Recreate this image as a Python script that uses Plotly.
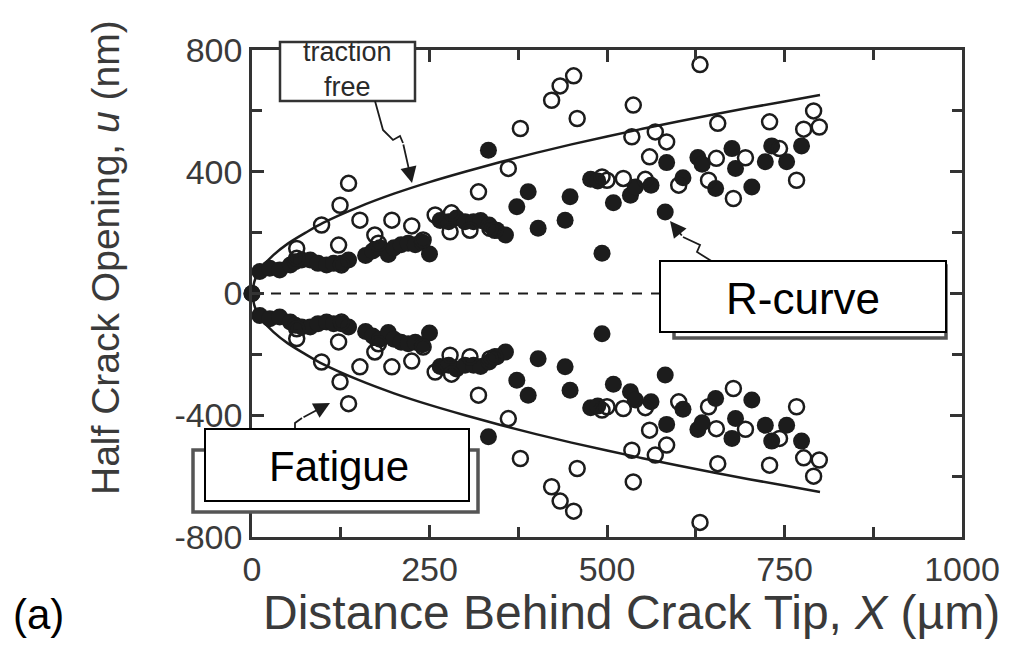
import plotly.graph_objects as go

# Upper-face crack opening (the lower face mirrors it), X in µm, u in nm
rcurve_x = [0, 11, 25, 39, 54, 61, 70, 82, 93, 105, 115, 126, 136,
            160, 170, 180, 192, 200, 210, 220, 230, 240, 250,
            265, 277, 288, 300, 312, 322, 334, 345, 357,
            333, 373, 389, 403, 441, 448, 477, 487, 493, 509, 533, 540, 562,
            582, 584, 607, 628, 634, 653, 676, 681, 704, 723, 732, 753, 774]
rcurve_u = [0, 72, 83, 77, 94, 104, 110, 110, 99, 94, 99, 99, 110,
            125, 140, 150, 128, 150, 160, 165, 160, 168, 130,
            240, 236, 248, 236, 236, 240, 225, 208, 192,
            471, 285, 334, 214, 241, 318, 375, 370, 132, 298, 323, 350, 356,
            268, 430, 380, 447, 425, 345, 476, 411, 350, 433, 485, 433, 485]

fatigue_x = [63, 63, 98, 124, 122, 126, 136, 152, 173, 178, 197, 225, 241,
             258, 281, 279, 307, 319, 335, 342, 361, 378, 422, 434, 453, 458,
             493, 500, 523, 535, 537, 554, 560, 568, 584, 601, 631, 643, 656,
             654, 678, 695, 729, 743, 767, 777, 791, 799]
fatigue_u = [148, 116, 225, 290, 159, 94, 362, 241, 192, 165, 241, 222, 176,
             258, 265, 203, 208, 334, 214, 208, 411, 542, 635, 682, 715, 575,
             383, 372, 378, 515, 619, 375, 449, 531, 498, 356, 752, 372, 559,
             444, 312, 446, 564, 476, 372, 540, 600, 547]

# Traction-free crack profile
free_x = [0, 5, 15, 30, 50, 75, 100, 150, 200, 250, 300, 350, 400,
          450, 500, 550, 600, 650, 700, 750, 800]
free_u = [0, 51, 89, 126, 163, 199, 232, 284, 328, 366, 400, 432, 462,
          490, 516, 541, 565, 588, 610, 631, 652]

x_ticks = [0, 250, 500, 750, 1000]
y_ticks = [-800, -400, 0, 400, 800]
y_tick_text = ["-800", "-400", "0", "400", "800"]

INK = "#1c1c1c"
AXIS_INK = "#333333"
NARROW = "Liberation Sans Narrow, Arial Narrow, Liberation Sans, Arial"
SANS = "Liberation Sans, Arial, Helvetica"

fig = go.Figure()

# Zero (crack plane) reference
fig.add_trace(go.Scatter(x=[0, 575], y=[0, 0], mode="lines",
                         line=dict(color=INK, width=2, dash="10px,9px"),
                         hoverinfo="skip", showlegend=False))

# Traction-free profile, both faces
for sign in (1, -1):
    fig.add_trace(go.Scatter(x=free_x, y=[sign * v for v in free_u], mode="lines",
                             line=dict(color=INK, width=2.5, shape="spline"),
                             hoverinfo="skip", showlegend=False))

# Measured openings, both faces
for sign in (1, -1):
    fig.add_trace(go.Scatter(x=rcurve_x, y=[sign * v for v in rcurve_u], mode="markers",
                             marker=dict(symbol="circle", size=17, color=INK,
                                         line=dict(width=0)),
                             cliponaxis=False, showlegend=False, name="R-curve"))
    fig.add_trace(go.Scatter(x=fatigue_x, y=[sign * v for v in fatigue_u], mode="markers",
                             marker=dict(symbol="circle-open", size=15, color=INK,
                                         line=dict(width=2.5, color=INK)),
                             cliponaxis=False, showlegend=False, name="Fatigue"))

# Plot-area geometry in page pixels, for placing callouts
PL, PT, PW, PH = 252, 50, 710, 487


def px(xp):
    return (xp - PL) / PW


def py(yp):
    return 1 - (yp - PT) / PH


shapes = []
annotations = []


def label(xp, yp, text, font, **kw):
    annotations.append(dict(x=px(xp), y=py(yp), xref="paper", yref="paper",
                            xanchor="center", yanchor="middle",
                            text=text, showarrow=False, font=font, **kw))


def box(x0, y0, x1, y1, color, width):
    shapes.append(dict(type="rect", xref="paper", yref="paper",
                       x0=px(x0), x1=px(x1), y0=py(y1), y1=py(y0),
                       line=dict(color=color, width=width),
                       fillcolor="white", layer="above"))


def squiggle(points):
    d = "M" + " L".join(f"{px(a):.5f},{py(b):.5f}" for a, b in points)
    shapes.append(dict(type="path", xref="paper", yref="paper", path=d,
                       line=dict(color=INK, width=1.8), layer="above"))


def arrow_head(tail, tip):
    annotations.append(dict(x=px(tip[0]), y=py(tip[1]), xref="paper", yref="paper",
                            ax=tail[0] - tip[0], ay=tail[1] - tip[1],
                            text="", showarrow=True, arrowhead=2, arrowsize=1.8,
                            arrowwidth=1.8, arrowcolor=INK))


# "traction free" callout
box(280, 42, 415, 101, AXIS_INK, 2.5)
label(347.5, 70, "traction<br>free", dict(family=SANS, size=27, color="#2a2a2a"),
      align="center")
squiggle([(375, 101), (383, 130), (393, 140), (400, 136), (403, 143)])
arrow_head((403, 143), (412, 183))

# "Fatigue" callout
squiggle([(295, 431), (295, 423), (302, 418)])
arrow_head((302, 418), (330, 403))
box(193, 450, 478, 512, "#555555", 3.5)
box(205, 429, 469, 501, "black", 2)
label(339, 466, "Fatigue", dict(family=SANS, size=42, color="black"))

# "R-curve" callout
squiggle([(713, 262), (697, 252), (700, 245), (683, 237)])
arrow_head((683, 237), (670, 221))
box(674, 266, 946, 338, "#555555", 3.5)
box(660, 261, 946, 332, "black", 2)
label(803, 298, "R-curve", dict(family=SANS, size=44, color="black"))

# Axis titles and panel label
label(631, 612, "Distance Behind Crack Tip, <i>X</i> (µm)",
      dict(family=NARROW, size=48, color="#3a3a3a"))
label(105, 258, "Half Crack Opening, <i>u</i> (nm)",
      dict(family=NARROW, size=39, color="#3a3a3a"), textangle=-90)
label(38, 614, "(a)", dict(family=SANS, size=42, color="black"))

axis_common = dict(showline=True, linecolor=AXIS_INK, linewidth=2.5, mirror="ticks",
                   ticks="inside", ticklen=12, tickwidth=2.5, tickcolor=AXIS_INK,
                   showgrid=False, zeroline=False,
                   tickfont=dict(family=NARROW, size=34, color="#3a3a3a"))

fig.update_layout(
    width=1020, height=655,
    margin=dict(l=PL, r=1020 - PL - PW, t=PT, b=655 - PT - PH),
    paper_bgcolor="white", plot_bgcolor="white",
    xaxis=dict(range=[0, 1000], tickvals=x_ticks,
               minor=dict(dtick=125, tick0=0, ticks="inside", ticklen=10,
                          tickwidth=2.5, tickcolor=AXIS_INK),
               **axis_common),
    yaxis=dict(range=[-800, 800], tickvals=y_ticks, ticktext=y_tick_text,
               minor=dict(dtick=200, tick0=0, ticks="inside", ticklen=10,
                          tickwidth=2.5, tickcolor=AXIS_INK),
               **axis_common),
    shapes=shapes,
    annotations=annotations,
    showlegend=False,
)

fig.write_html("out.html")
